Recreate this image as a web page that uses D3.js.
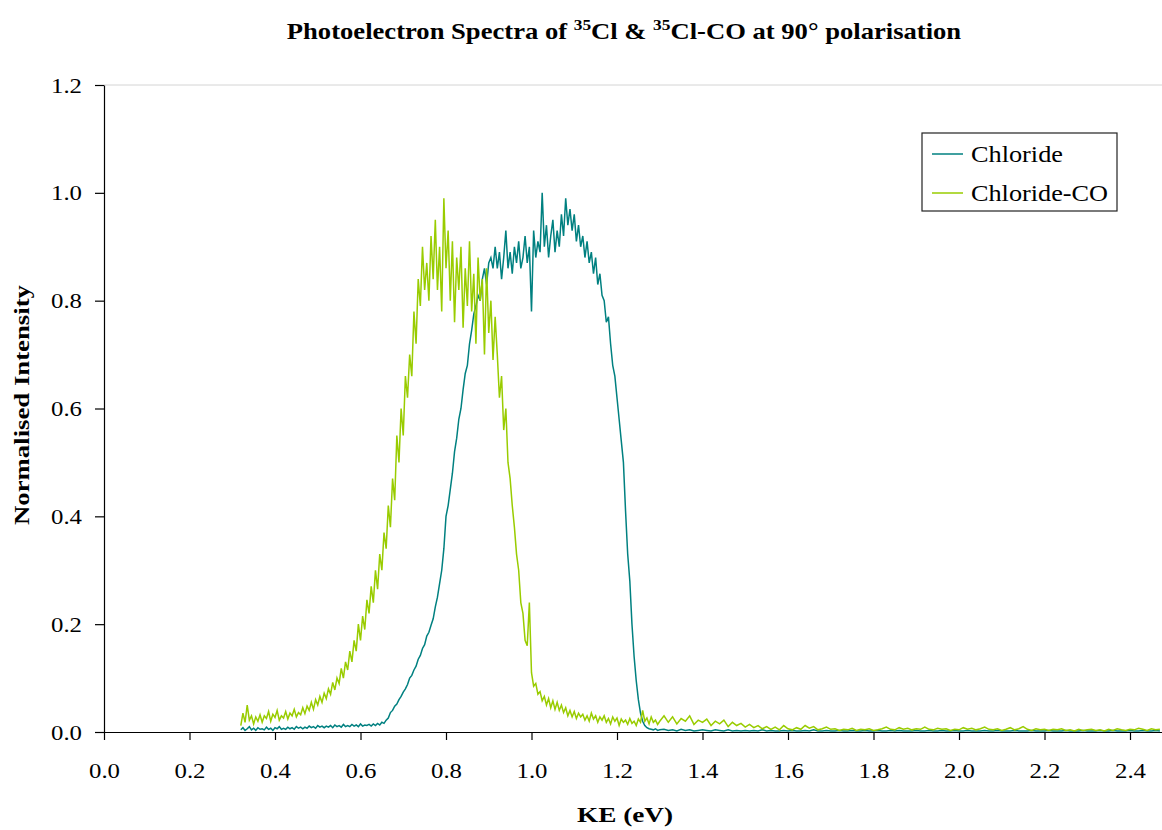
<!DOCTYPE html>
<html>
<head>
<meta charset="utf-8">
<script src="https://cdn.jsdelivr.net/npm/d3@7"></script>
<style>
  body { margin: 0; background: #fff; }
  svg text { font-family: "Liberation Serif", "Times New Roman", serif; fill: #000; }
</style>
</head>
<body>
<div id="chart"></div>
<script>
// energy grids (eV): fine sampling over the peaks, coarser in the tail
const mainStart = 0.32, mainStep = 0.005;
const tailStart = 1.31, tailStep = 0.01;

// Chloride, 0.320 .. 1.300 eV
const chlorideMain = [
  0.004, 0.008, 0.003, 0.006, 0.010, 0.004, 0.007, 0.003, 0.008, 0.005,
  0.006, 0.004, 0.009, 0.005, 0.007, 0.003, 0.008, 0.006, 0.010, 0.005,
  0.007, 0.005, 0.009, 0.006, 0.008, 0.005, 0.010, 0.007, 0.009, 0.006,
  0.009, 0.007, 0.011, 0.008, 0.010, 0.007, 0.012, 0.009, 0.011, 0.008,
  0.011, 0.009, 0.012, 0.008, 0.013, 0.010, 0.012, 0.009, 0.014, 0.010,
  0.012, 0.010, 0.014, 0.011, 0.013, 0.010, 0.015, 0.011, 0.013, 0.012,
  0.014, 0.011, 0.015, 0.012, 0.016, 0.013, 0.018, 0.016, 0.022, 0.026,
  0.036, 0.040, 0.048, 0.052, 0.060, 0.066, 0.074, 0.080, 0.088, 0.100,
  0.105, 0.115, 0.122, 0.135, 0.142, 0.155, 0.162, 0.178, 0.185, 0.198,
  0.210, 0.232, 0.250, 0.275, 0.300, 0.340, 0.400, 0.420, 0.450, 0.480,
  0.520, 0.545, 0.580, 0.600, 0.635, 0.665, 0.680, 0.720, 0.745, 0.775,
  0.790, 0.810, 0.800, 0.840, 0.860, 0.830, 0.870, 0.880, 0.860, 0.900,
  0.860, 0.890, 0.840, 0.880, 0.930, 0.860, 0.890, 0.850, 0.900, 0.870,
  0.910, 0.860, 0.880, 0.920, 0.870, 0.900, 0.780, 0.930, 0.880, 0.910,
  0.890, 1.000, 0.900, 0.940, 0.880, 0.920, 0.950, 0.890, 0.930, 0.900,
  0.960, 0.920, 0.990, 0.940, 0.970, 0.930, 0.960, 0.910, 0.940, 0.900,
  0.920, 0.880, 0.910, 0.870, 0.890, 0.850, 0.880, 0.830, 0.850, 0.810,
  0.800, 0.760, 0.770, 0.720, 0.680, 0.660, 0.620, 0.580, 0.540, 0.500,
  0.410, 0.330, 0.280, 0.200, 0.140, 0.095, 0.060, 0.035, 0.020, 0.012,
  0.008, 0.006, 0.005, 0.004, 0.006, 0.003, 0.004
];

// Chloride-CO, 0.320 .. 1.300 eV
const chlorideCOMain = [
  0.012, 0.035, 0.018, 0.050, 0.022, 0.030, 0.015, 0.028, 0.020, 0.032,
  0.018, 0.030, 0.025, 0.038, 0.020, 0.033, 0.027, 0.040, 0.022, 0.030,
  0.026, 0.038, 0.024, 0.035, 0.030, 0.042, 0.028, 0.036, 0.032, 0.045,
  0.034, 0.048, 0.040, 0.055, 0.042, 0.060, 0.050, 0.066, 0.055, 0.072,
  0.062, 0.080, 0.070, 0.092, 0.078, 0.100, 0.090, 0.118, 0.100, 0.130,
  0.115, 0.150, 0.130, 0.170, 0.150, 0.200, 0.170, 0.215, 0.190, 0.245,
  0.220, 0.270, 0.240, 0.300, 0.265, 0.330, 0.300, 0.370, 0.340, 0.420,
  0.380, 0.470, 0.430, 0.550, 0.500, 0.600, 0.550, 0.660, 0.620, 0.700,
  0.660, 0.780, 0.720, 0.840, 0.790, 0.900, 0.820, 0.870, 0.800, 0.920,
  0.840, 0.950, 0.820, 0.900, 0.780, 0.990, 0.860, 0.930, 0.800, 0.910,
  0.760, 0.880, 0.820, 0.900, 0.750, 0.860, 0.790, 0.910, 0.780, 0.850,
  0.720, 0.880, 0.800, 0.840, 0.700, 0.860, 0.740, 0.800, 0.690, 0.770,
  0.700, 0.620, 0.660, 0.560, 0.600, 0.500, 0.470, 0.420, 0.380, 0.330,
  0.300, 0.240, 0.220, 0.170, 0.160, 0.240, 0.110, 0.085, 0.090, 0.070,
  0.075, 0.058, 0.066, 0.050, 0.062, 0.045, 0.058, 0.042, 0.055, 0.040,
  0.050, 0.036, 0.045, 0.030, 0.040, 0.028, 0.038, 0.025, 0.035, 0.028,
  0.033, 0.022, 0.030, 0.020, 0.035, 0.024, 0.030, 0.018, 0.028, 0.022,
  0.030, 0.018, 0.025, 0.015, 0.028, 0.020, 0.026, 0.012, 0.024, 0.018,
  0.022, 0.014, 0.025, 0.016, 0.020, 0.012, 0.024, 0.018, 0.040, 0.020,
  0.026, 0.015, 0.028, 0.018, 0.022, 0.014, 0.020
];

// tails, 1.31 .. 2.47 eV
const chlorideTail = [
  0.005, 0.003, 0.004, 0.002, 0.005, 0.003, 0.004, 0.002, 0.003, 0.004,
  0.003, 0.002, 0.004, 0.003, 0.002, 0.004, 0.002, 0.003, 0.002, 0.003,
  0.002, 0.003, 0.002, 0.004, 0.002, 0.003, 0.002, 0.002, 0.003, 0.002,
  0.003, 0.002, 0.002, 0.003, 0.002, 0.004, 0.002, 0.002, 0.003, 0.002,
  0.002, 0.003, 0.002, 0.002, 0.003, 0.002, 0.002, 0.003, 0.002, 0.002,
  0.003, 0.002, 0.002, 0.003, 0.002, 0.003, 0.002, 0.002, 0.002, 0.003,
  0.002, 0.002, 0.003, 0.002, 0.002, 0.003, 0.002, 0.002, 0.003, 0.002,
  0.002, 0.003, 0.002, 0.002, 0.002, 0.003, 0.002, 0.002, 0.003, 0.002,
  0.002, 0.002, 0.003, 0.002, 0.002, 0.002, 0.003, 0.002, 0.002, 0.002,
  0.003, 0.002, 0.002, 0.002, 0.003, 0.002, 0.002, 0.002, 0.003, 0.002,
  0.002, 0.002, 0.003, 0.002, 0.002, 0.003, 0.002, 0.002, 0.002, 0.003,
  0.002, 0.002, 0.003, 0.002, 0.002, 0.003, 0.002
];

const chlorideCOTail = [
  0.030, 0.018, 0.028, 0.015, 0.025, 0.020, 0.030, 0.014, 0.022, 0.018,
  0.024, 0.012, 0.020, 0.015, 0.022, 0.010, 0.018, 0.012, 0.016, 0.009,
  0.014, 0.008, 0.012, 0.006, 0.010, 0.005, 0.009, 0.004, 0.012, 0.006,
  0.004, 0.008, 0.005, 0.012, 0.007, 0.010, 0.004, 0.006, 0.009, 0.005,
  0.006, 0.003, 0.005, 0.004, 0.007, 0.003, 0.005, 0.004, 0.006, 0.003,
  0.004, 0.006, 0.009, 0.005, 0.004, 0.008, 0.005, 0.007, 0.004, 0.006,
  0.005, 0.009, 0.005, 0.004, 0.007, 0.005, 0.006, 0.003, 0.005, 0.004,
  0.008, 0.005, 0.007, 0.004, 0.006, 0.009, 0.005, 0.004, 0.006, 0.003,
  0.005, 0.008, 0.004, 0.006, 0.010, 0.005, 0.003, 0.006, 0.004, 0.005,
  0.003, 0.005, 0.004, 0.006, 0.003, 0.004, 0.002, 0.005, 0.003, 0.004,
  0.005, 0.003, 0.004, 0.002, 0.005, 0.003, 0.006, 0.004, 0.003, 0.005,
  0.004, 0.007, 0.005, 0.003, 0.006, 0.004, 0.005
];

const xTicks = [0.0, 0.2, 0.4, 0.6, 0.8, 1.0, 1.2, 1.4, 1.6, 1.8, 2.0, 2.2, 2.4];
const yTicks = [0.0, 0.2, 0.4, 0.6, 0.8, 1.0, 1.2];
const seriesNames = ["Chloride", "Chloride-CO"];
const seriesColors = ["#008080", "#99cc00"];

// pair energies with intensities
function toPoints(mainVals, tailVals) {
  const pts = mainVals.map((v, i) => ({ ke: mainStart + i * mainStep, y: v }));
  tailVals.forEach((v, i) => pts.push({ ke: tailStart + i * tailStep, y: v }));
  return pts;
}
const series = [
  toPoints(chlorideMain, chlorideTail),
  toPoints(chlorideCOMain, chlorideCOTail)
];

const W = 1162, H = 830;
const plot = { left: 104, right: 1162, top: 85, bottom: 732 };

const svg = d3.select("#chart")
    .append("svg")
        .attr("width", W)
        .attr("height", H);

const x = d3.scaleLinear()
    .domain([0, (plot.right - plot.left) / 427.5])
    .range([plot.left, plot.right]);

const y = d3.scaleLinear()
    .domain([0, 1.2])
    .range([plot.bottom, plot.top]);

// stretch a text horizontally to the width it has in the original (old bitmap fonts are wide)
function stretch(sel, width) {
    sel.attr("textLength", width).attr("lengthAdjust", "spacingAndGlyphs");
}

// faint top border of the plot area
svg.append("line")
    .attr("x1", plot.left).attr("x2", plot.right)
    .attr("y1", plot.top).attr("y2", plot.top)
    .attr("stroke", "#d4d4d4")
    .attr("stroke-width", 1);

// the spectra
const line = d3.line()
    .x(d => x(d.ke))
    .y(d => y(d.y));

svg.selectAll("path.spectrum")
    .data(series)
    .join("path")
        .attr("class", "spectrum")
        .attr("fill", "none")
        .attr("stroke", (d, i) => seriesColors[i])
        .attr("stroke-width", 1.5)
        .attr("stroke-linejoin", "miter")
        .attr("d", line);

// x axis
const xAxis = svg.append("g")
    .attr("transform", `translate(0, ${plot.bottom})`)
    .call(d3.axisBottom(x).tickValues(xTicks).tickFormat(d3.format(".1f")).tickSize(8).tickSizeOuter(0));

// y axis
const yAxis = svg.append("g")
    .attr("transform", `translate(${plot.left}, 0)`)
    .call(d3.axisLeft(y).tickValues(yTicks).tickFormat(d3.format(".1f")).tickSize(9).tickSizeOuter(0));

[xAxis, yAxis].forEach(g => {
    g.attr("font-family", null).attr("font-size", null);
    g.select(".domain").attr("stroke", "#000").attr("stroke-width", 1.2);
    g.selectAll(".tick line").attr("stroke", "#000").attr("stroke-width", 1.2);
    g.selectAll(".tick text")
        .style("font-size", "22px")
        .attr("fill", "#000")
        .call(stretch, 31);
});
xAxis.selectAll(".tick text").attr("y", 30);
yAxis.selectAll(".tick text").attr("x", -22);

// title with superscripts
const titleG = svg.append("g").attr("transform", "translate(624, 39)");
const title = titleG.append("text")
    .attr("text-anchor", "middle")
    .style("font-size", "23px")
    .style("font-weight", "bold");
title.append("tspan").text("Photoelectron Spectra of ");
title.append("tspan").attr("dy", -9).style("font-size", "15px").text("35");
title.append("tspan").attr("dy", 9).text("Cl & ");
title.append("tspan").attr("dy", -9).style("font-size", "15px").text("35");
title.append("tspan").attr("dy", 9).text("Cl-CO at 90\u00b0 polarisation");
const tw = title.node().getBBox().width;
title.attr("transform", `scale(${675 / tw}, 1)`);

// axis titles
svg.append("text")
    .attr("transform", "translate(29, 405) rotate(-90)")
    .attr("text-anchor", "middle")
    .style("font-size", "22px")
    .style("font-weight", "bold")
    .text("Normalised Intensity")
    .call(stretch, 240);

svg.append("text")
    .attr("x", 625)
    .attr("y", 822)
    .attr("text-anchor", "middle")
    .style("font-size", "22px")
    .style("font-weight", "bold")
    .text("KE (eV)")
    .call(stretch, 96);

// legend
const legend = svg.append("g").attr("transform", "translate(922, 133)");
legend.append("rect")
    .attr("width", 195)
    .attr("height", 78)
    .attr("fill", "#fff")
    .attr("stroke", "#222")
    .attr("stroke-width", 1.2);

const items = legend.selectAll("g.item")
    .data(seriesNames)
    .join("g")
        .attr("class", "item")
        .attr("transform", (d, i) => `translate(0, ${21 + i * 39})`);

items.append("line")
    .attr("x1", 10).attr("x2", 41)
    .attr("stroke", (d, i) => seriesColors[i])
    .attr("stroke-width", 1.5);

items.append("text")
    .attr("x", 49)
    .attr("dy", "0.35em")
    .style("font-size", "23px")
    .text(d => d)
    .each(function (d) {
        d3.select(this).call(stretch, d === "Chloride" ? 92 : 137);
    });
</script>
</body>
</html>
